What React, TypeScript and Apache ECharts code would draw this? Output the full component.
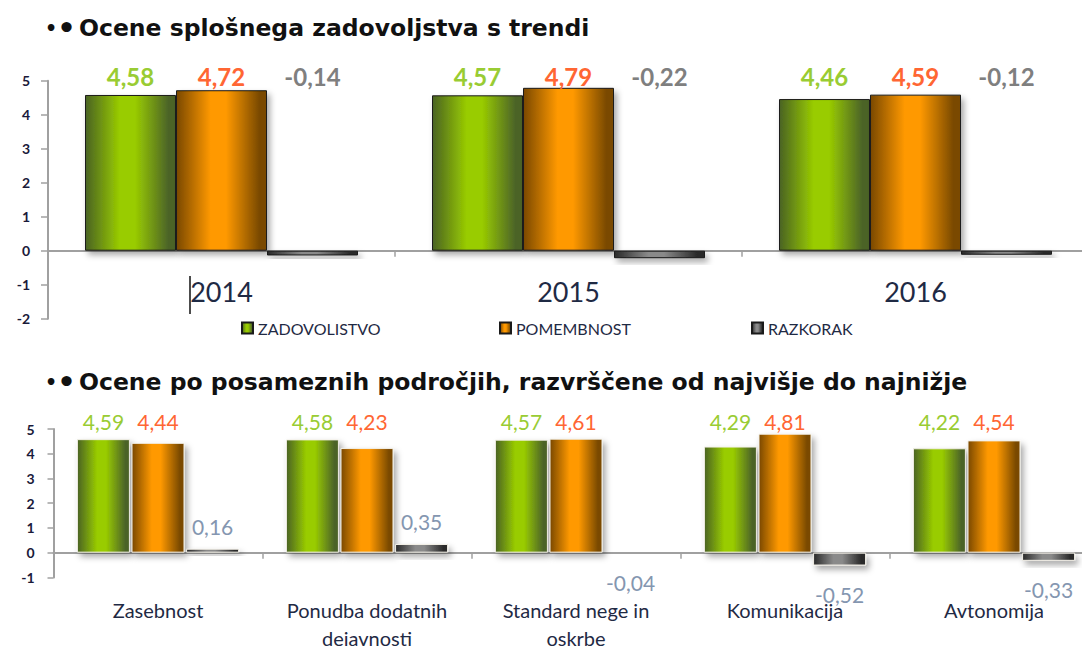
import React, { useEffect, useRef } from "react";
import * as echarts from "echarts";

// ---- data ----
const years = ["2014", "2015", "2016"];
const zadTrend = [4.58, 4.57, 4.46];
const pomTrend = [4.72, 4.79, 4.59];
const razTrend = [-0.14, -0.22, -0.12];

const areas = [
  "Zasebnost",
  "Ponudba dodatnih\ndejavnosti",
  "Standard nege in\noskrbe",
  "Komunikacija",
  "Avtonomija",
];
const zadAreas = [4.59, 4.58, 4.57, 4.29, 4.22];
const pomAreas = [4.44, 4.23, 4.61, 4.81, 4.54];
const razAreas = [0.16, 0.35, -0.04, -0.52, -0.33];

const seriesNames = ["ZADOVOLISTVO", "POMEMBNOST", "RAZKORAK"];
const titleTop = "Ocene splošnega zadovoljstva s trendi";
const titleBottom = "Ocene po posameznih področjih, razvrščene od najvišje do najnižje";

const fmt = (v: number) => v.toFixed(2).replace(".", ",");

function grad(dark1: string, bright: string, dark2: string) {
  return new echarts.graphic.LinearGradient(0, 0, 1, 0, [
    { offset: 0, color: dark1 },
    { offset: 0.38, color: bright },
    { offset: 0.55, color: bright },
    { offset: 0.92, color: dark2 },
    { offset: 1, color: dark2 },
  ]);
}

export default function App() {
  const ref = useRef<HTMLDivElement>(null);
  useEffect(() => {
    if (!ref.current) return;
    const chart = echarts.init(ref.current, null, { renderer: "svg" });
    const green = grad("#4a6323", "#99cc00", "#4c6428");
    const orange = grad("#7a4800", "#ff9900", "#7a4a00");
    const grey = grad("#2a2a2a", "#8a8a8a", "#2a2a2a");
    const fills = [green, orange, grey];
    const labelColorsTop = ["#99cc33", "#ff6633", "#7f7f7f"];
    const labelColorsBottom = ["#99cc33", "#ff6633", "#8496b0"];
    const shadow = {
      shadowBlur: 6,
      shadowOffsetX: 3,
      shadowOffsetY: 4,
      shadowColor: "rgba(0,0,0,0.35)",
    };
    const axisColor = "#a0a0a0";
    const tickLabelStyle = {
      fontFamily: "Lato",
      fontWeight: "bold" as const,
      fontSize: 14,
      color: "#1a1a3a",
    };

    const topValues = [zadTrend, pomTrend, razTrend];
    const bottomValues = [zadAreas, pomAreas, razAreas];

    const topSeries = topValues.map((vals, i) => ({
      name: seriesNames[i],
      type: "bar",
      xAxisIndex: 0,
      yAxisIndex: 0,
      barWidth: 91,
      barGap: "0%",
      data: vals,
      itemStyle: {
        color: fills[i],
        borderColor: "#1a1a1a",
        borderWidth: 1,
        ...shadow,
      },
      label: {
        show: true,
        position: "top",
        formatter: (p: any) => fmt(p.value),
        fontFamily: "Lato",
        fontWeight: "bold",
        fontSize: 24,
        color: labelColorsTop[i],
      },
      labelLayout: () => ({ y: 76, verticalAlign: "middle", align: "center" }),
    }));

    const bottomSeries = bottomValues.map((vals, i) => ({
      name: seriesNames[i],
      type: "bar",
      xAxisIndex: 1,
      yAxisIndex: 1,
      barWidth: 53,
      barGap: "3%",
      data:
        i === 2
          ? vals.map((v) => ({
              value: v,
              label: { position: v >= 0 ? "top" : "bottom", distance: v >= 0 ? 12 : 18 },
            }))
          : vals,
      itemStyle: {
        color: fills[i],
        borderColor: "#f2efe6",
        borderWidth: 1,
        ...shadow,
      },
      label: {
        show: true,
        position: "top",
        formatter: (p: any) => fmt(p.value),
        fontFamily: "Lato",
        fontSize: 21,
        color: labelColorsBottom[i],
      },
      ...(i < 2
        ? { labelLayout: () => ({ y: 421, verticalAlign: "middle", align: "center" }) }
        : {}),
    }));

    const legendBase = {
      icon: "rect",
      itemWidth: 11,
      itemHeight: 11,
      top: 315,
      textStyle: { fontFamily: "Lato", fontSize: 16, color: "#1f2a44" },
      selectedMode: false,
    };

    const titleRich = {
      s: { fontSize: 19, fontFamily: "DejaVu Sans", fontWeight: "bold", fill: "#111111", color: "#111111" },
      b: { fontSize: 29, fontFamily: "DejaVu Sans", fontWeight: "bold", fill: "#111111", color: "#111111" },
      t: { fontSize: 23.5, fontFamily: "DejaVu Sans", fontWeight: "bold", fill: "#111111", color: "#111111" },
    };

    chart.setOption({
      animation: false,
      backgroundColor: "#ffffff",
      legend: [
        { ...legendBase, left: 236, data: [seriesNames[0]] },
        { ...legendBase, left: 494, data: [seriesNames[1]] },
        { ...legendBase, left: 746, data: [seriesNames[2]] },
      ],
      grid: [
        { left: 48, top: 80.7, width: 1041, height: 238, outerBoundsMode: "none", containLabel: false },
        { left: 53.5, top: 429, width: 1045, height: 148.4, outerBoundsMode: "none", containLabel: false },
      ],
      xAxis: [
        {
          type: "category",
          gridIndex: 0,
          data: years,
          axisLine: { show: true, lineStyle: { color: axisColor, width: 2 } },
          axisTick: { show: true, length: 6, lineStyle: { color: axisColor, width: 1.5 } },
          axisLabel: {
            margin: -42,
            fontFamily: "Lato",
            fontSize: 27,
            lineHeight: 30,
            color: "#1f2a44",
          },
        },
        {
          type: "category",
          gridIndex: 1,
          data: areas,
          axisLine: { show: true, lineStyle: { color: axisColor, width: 2 } },
          axisTick: { show: true, length: 6, lineStyle: { color: axisColor, width: 1.5 } },
          axisLabel: {
            margin: 19,
            fontFamily: "Lato",
            fontSize: 20,
            lineHeight: 28,
            color: "#1f2a44",
            interval: 0,
          },
        },
      ],
      yAxis: [
        {
          type: "value",
          gridIndex: 0,
          min: -2,
          max: 5,
          interval: 1,
          splitLine: { show: false },
          axisLine: { show: true, lineStyle: { color: axisColor, width: 2 } },
          axisTick: { show: true, length: 7, lineStyle: { color: axisColor, width: 1.5 } },
          axisLabel: { ...tickLabelStyle, margin: 18 },
        },
        {
          type: "value",
          gridIndex: 1,
          min: -1,
          max: 5,
          interval: 1,
          splitLine: { show: false },
          axisLine: { show: true, lineStyle: { color: axisColor, width: 2 } },
          axisTick: { show: true, length: 6, lineStyle: { color: axisColor, width: 1.5 } },
          axisLabel: { ...tickLabelStyle, margin: 19 },
        },
      ],
      graphic: [
        {
          type: "text",
          x: 45,
          y: 28,
          style: {
            text: "{s|•}{b|•} {t|" + titleTop + "}",
            rich: titleRich,
            verticalAlign: "middle",
          },
        },
        {
          type: "text",
          x: 45,
          y: 382,
          style: {
            text: "{s|•}{b|•} {t|" + titleBottom + "}",
            rich: titleRich,
            verticalAlign: "middle",
          },
        },
        {
          type: "line",
          shape: { x1: 190, y1: 276, x2: 190, y2: 314 },
          style: { stroke: "#111111", lineWidth: 1.5 },
        },
      ],
      series: [...topSeries, ...bottomSeries],
    });
    return () => chart.dispose();
  }, []);
  return (
    <div
      ref={ref}
      style={{ position: "fixed", left: 0, top: 0, width: 1082, height: 646 }}
    />
  );
}
